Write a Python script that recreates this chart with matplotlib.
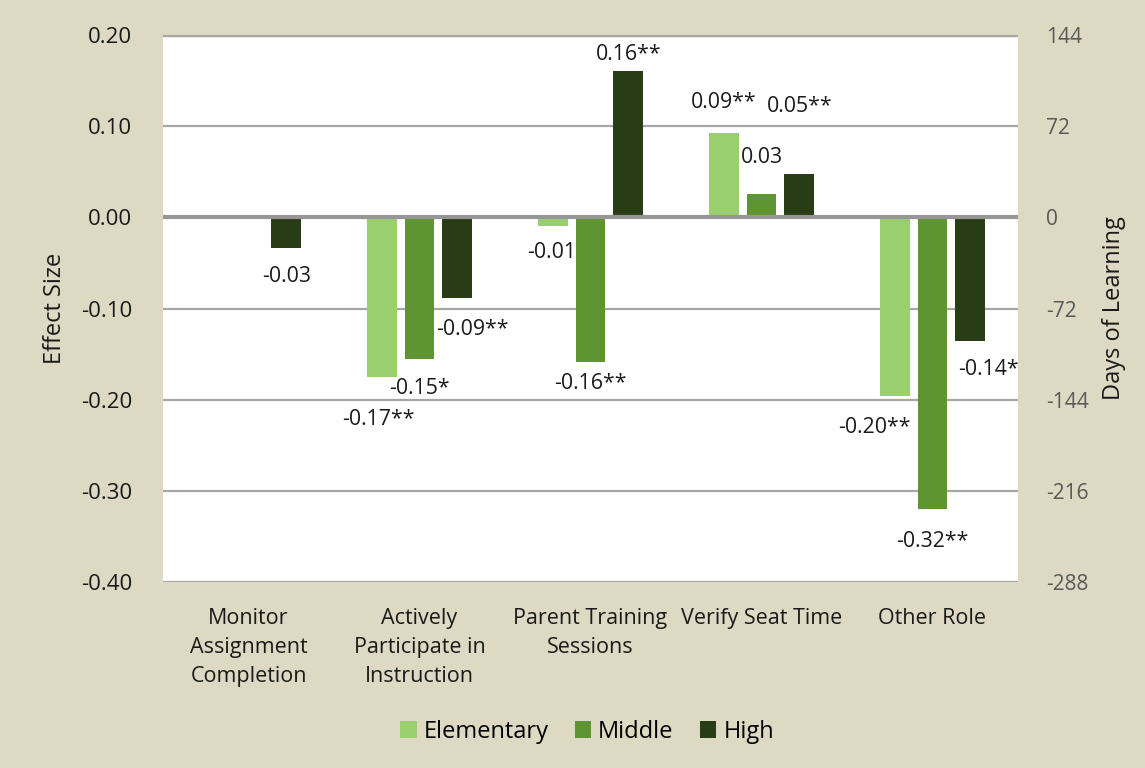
import numpy as np
import matplotlib
matplotlib.use("Agg")
import matplotlib.pyplot as plt

plt.rcParams['font.family'] = ['Open Sans', 'DejaVu Sans']

categories = ["Monitor\nAssignment\nCompletion", "Actively\nParticipate in\nInstruction",
              "Parent Training\nSessions", "Verify Seat Time", "Other Role"]
series = ["Elementary", "Middle", "High"]
elementary = [np.nan, -0.175, -0.009, 0.092, -0.196]
middle = [np.nan, -0.155, -0.159, 0.026, -0.320]
high = [-0.034, -0.088, 0.161, 0.047, -0.136]
elem_labels = ["", "-0.17**", "-0.01", "0.09**", "-0.20**"]
mid_labels = ["", "-0.15*", "-0.16**", "0.03", "-0.32**"]
high_labels = ["-0.03", "-0.09**", "0.16**", "0.05**", "-0.14*"]
left_ticks = [0.20, 0.10, 0.00, -0.10, -0.20, -0.30, -0.40]
right_ticks = [144, 72, 0, -72, -144, -216, -288]

colors = ["#99CF6E", "#5E9432", "#283D16"]
# label offsets in pixels (dx, dy) relative to bar end
elem_off = [(0, 0), (-3, -43), (-1, -27), (0, 31), (-20, -31)]
mid_off = [(0, 0), (0, -30), (0, -21), (0, 36), (0, -32)]
high_off = [(0, -28), (15, -32), (0, 16), (0, 68), (18, -28)]

W, H = 1145, 768
fig = plt.figure(figsize=(W / 100, H / 100), dpi=100)
fig.patch.set_facecolor("#DDD9C3")
ax = fig.add_axes([163 / W, 1 - 582 / H, (1018 - 163) / W, (582 - 35) / H])
ax.set_facecolor("white")

x = np.arange(len(categories))
offset = 0.222
width = 0.175
all_vals = [elementary, middle, high]
all_labels = [elem_labels, mid_labels, high_labels]
all_offs = [elem_off, mid_off, high_off]

for gy in left_ticks:
    if gy in (0.0,):
        continue
    lw = 2.5 if gy == 0.20 else 1.6
    ax.axhline(gy, color="#A6A6A6", lw=lw, zorder=1)

for i, (vals, labs, offs, c, name) in enumerate(zip(all_vals, all_labels, all_offs, colors, series)):
    xs = x + (i - 1) * offset
    ax.bar(xs, vals, width=width, color=c, label=name, zorder=2)
    for xi, v, lab, (dx, dy) in zip(xs, vals, labs, offs):
        if not lab or np.isnan(v):
            continue
        ax.annotate(lab, (xi, v), xytext=(dx * 0.72, dy * 0.72), textcoords="offset points",
                    ha="center", va="center", fontsize=15.3, color="#1a1a1a", zorder=4)

ax.axhline(0, color="#969696", lw=3, zorder=3)

ax.set_xlim(-0.5, len(categories) - 0.5)
ax.set_ylim(-0.40, 0.20)
ax.set_yticks(left_ticks)
ax.set_yticklabels([f"{t:.2f}" for t in left_ticks], fontsize=16, color="#1a1a1a")
ax.set_xticks(x)
ax.set_xticklabels(categories, fontsize=15.5, color="#1a1a1a", linespacing=1.5)
ax.tick_params(axis="both", length=0)
ax.tick_params(axis="x", pad=19)
ax.tick_params(axis="y", pad=22)
for s in ax.spines.values():
    s.set_visible(False)
ax.set_ylabel("Effect Size", fontsize=17, color="#1a1a1a", labelpad=10)

ax2 = ax.twinx()
ax2.set_ylim(-288, 144)
ax2.set_yticks(right_ticks)
ax2.set_yticklabels([str(t) for t in right_ticks], fontsize=15, color="#595959")
ax2.tick_params(axis="y", length=0, pad=20)
for s in ax2.spines.values():
    s.set_visible(False)
ax2.set_ylabel("Days of Learning", fontsize=17, color="#1a1a1a", labelpad=10)

fig.legend(*ax.get_legend_handles_labels(), loc="center", bbox_to_anchor=(587 / W, 1 - 732 / H),
           ncol=3, frameon=False, fontsize=17, handlelength=0.7, handleheight=0.7,
           handletextpad=0.3, columnspacing=1.1)

fig.savefig("out.png", dpi=100, facecolor=fig.get_facecolor())
